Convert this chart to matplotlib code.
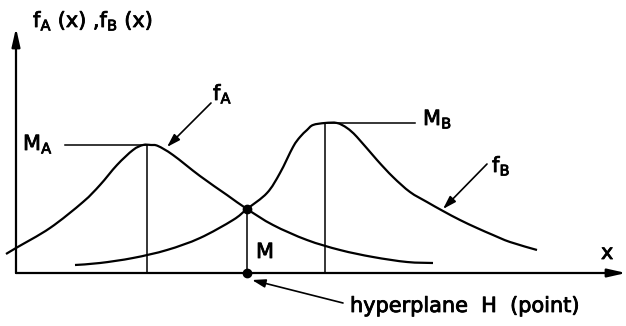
import numpy as np
import matplotlib.pyplot as plt
from matplotlib.path import Path
from matplotlib.patches import PathPatch
import matplotlib.patheffects as pe

# curve samples, origin at the axis corner
fa_x = [-10, 0, 34, 67, 84, 101, 117, 127, 135, 142, 157, 184, 211, 231, 257, 291, 324, 357, 391, 417]
fa_y = [19, 25, 45, 71, 88, 108, 123, 128, 128, 127, 118, 97, 78, 64, 48, 33, 23, 16, 11, 10]

fb_x = [59, 84, 117, 151, 184, 217, 231, 251, 264, 277, 284, 291, 297, 309, 321, 331, 341, 361, 377,
        394, 411, 427, 444, 461, 477, 494, 521]
fb_y = [8, 10, 15, 23, 35, 53, 64, 80, 100, 126, 136, 143, 148, 150, 150, 145, 136, 113, 96,
        81, 71, 62, 53, 45, 38, 31, 23]

peak_a = (131, 128)
peak_b = (309, 150)
cross = (231, 64)
ma_from = 49    # left end of the M_A level line
mb_to = 399     # right end of the M_B level line


def smooth_path(xs, ys):
    # cubic bezier pieces through the read points (catmull-rom tangents)
    pts = np.column_stack([xs, ys]).astype(float)
    n = len(pts)
    verts = [pts[0]]
    codes = [Path.MOVETO]
    for i in range(n - 1):
        p0 = pts[max(i - 1, 0)]
        p1 = pts[i]
        p2 = pts[i + 1]
        p3 = pts[min(i + 2, n - 1)]
        verts += [p1 + (p2 - p0) / 6, p2 - (p3 - p1) / 6, p2]
        codes += [Path.CURVE4] * 3
    return Path(verts, codes)


fig = plt.figure(figsize=(6.26, 3.26), dpi=100)
ax = fig.add_axes([0, 0, 1, 1])
ax.set_xlim(-16, 610)
ax.set_ylim(-53, 273)
ax.axis('off')

lw = 1.6
axis_arrow = dict(arrowstyle='-|>,head_length=1.1,head_width=0.25',
                  mutation_scale=10, lw=lw, color='black', shrinkA=0, shrinkB=0)
ax.annotate('', xy=(0, 245), xytext=(0, 0), arrowprops=axis_arrow)
ax.annotate('', xy=(610, 0), xytext=(0, 0), arrowprops=axis_arrow)

for xs, ys in [(fa_x, fa_y), (fb_x, fb_y)]:
    ax.add_patch(PathPatch(smooth_path(xs, ys), fill=False, lw=lw, edgecolor='black',
                           capstyle='butt'))

# level lines and drops
thin = 1.1
ax.plot([ma_from, peak_a[0]], [peak_a[1], peak_a[1]], color='black', lw=thin)
ax.plot([peak_a[0], peak_a[0]], [0, peak_a[1]], color='black', lw=thin)
ax.plot([peak_b[0], mb_to], [peak_b[1], peak_b[1]], color='black', lw=thin)
ax.plot([peak_b[0], peak_b[0]], [0, peak_b[1]], color='black', lw=thin)
ax.plot([cross[0], cross[0]], [0, cross[1]], color='black', lw=thin)
ax.plot([cross[0], cross[0]], [cross[1], 0], 'o', color='black', ms=6)

fs = 15
heavy = [pe.withStroke(linewidth=0.6, foreground='black')]
txt = dict(fontsize=fs, va='baseline', ha='left', path_effects=heavy)
ax.text(17, 246, r'$\mathregular{f_A}$ (x) ,$\mathregular{f_B}$ (x)', **txt)
ax.text(7, 123, r'$\mathregular{M_A}$', **txt)
ax.text(407, 148, r'$\mathregular{M_B}$', **txt)
ax.text(240, 15, 'M', **txt)
ax.text(585, 14, 'x', **txt)
ax.text(197, 173, r'$\mathregular{f_A}$', **txt)
ax.text(476, 101, r'$\mathregular{f_B}$', **txt)
ax.text(334, -39, 'hyperplane  H  (point)', **txt)

small = dict(arrowstyle='-|>,head_length=0.8,head_width=0.25', mutation_scale=10,
             lw=1.2, color='black', shrinkA=0, shrinkB=0)
ax.annotate('', xy=(151, 126), xytext=(195, 170), arrowprops=small)
ax.annotate('', xy=(427, 64), xytext=(471, 109), arrowprops=small)
ax.annotate('', xy=(236, -7), xytext=(327, -30), arrowprops=small)

fig.savefig('out.png', dpi=100)
